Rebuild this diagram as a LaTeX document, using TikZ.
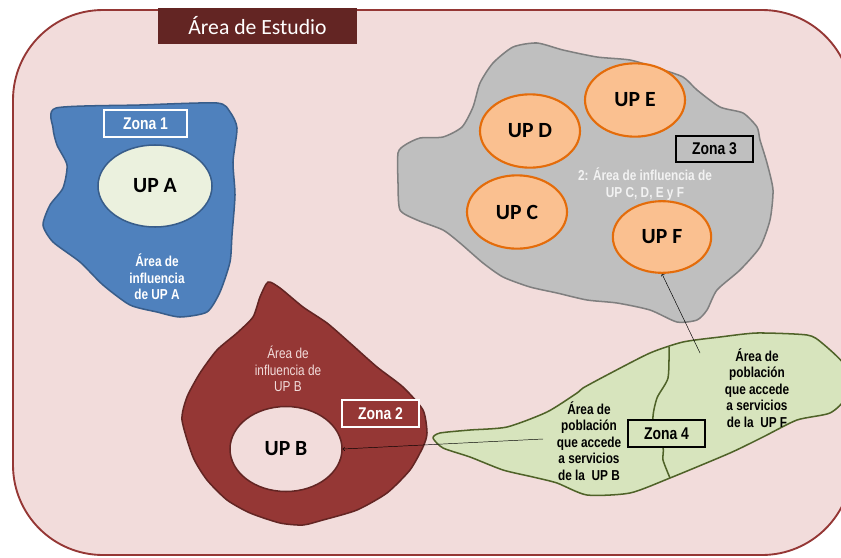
\documentclass[tikz,border=0pt]{standalone}
\usepackage{fontspec}
\setmainfont{Carlito}
\newfontfamily\narrowfont[FakeStretch=0.82]{Liberation Sans}
\usetikzlibrary{shapes.geometric,arrows}

\definecolor{fondo}{HTML}{F2DCDB}
\definecolor{marco}{HTML}{953735}
\definecolor{titulo}{HTML}{632523}
\definecolor{azul}{HTML}{4F81BD}
\definecolor{azulborde}{HTML}{385D8A}
\definecolor{crema}{HTML}{EBF1DE}
\definecolor{gris}{HTML}{BFBFBF}
\definecolor{grisborde}{HTML}{7F7F7F}
\definecolor{verde}{HTML}{D7E4BD}
\definecolor{verdeborde}{HTML}{4F6228}
\definecolor{naranja}{HTML}{FAC090}
\definecolor{naranjaborde}{HTML}{E46C0A}
\definecolor{rojo}{HTML}{953735}
\definecolor{rojoborde}{HTML}{632523}

\begin{document}
\begin{tikzpicture}[x=0.03cm,y=-0.03cm,>=to,
  zonashape/.style={line width=1.3pt, line join=round},
  up/.style={ellipse, draw, inner sep=0pt, font=\bfseries\fontsize{18.5}{18.5}\selectfont},
  upnar/.style={up, fill=naranja, draw=naranjaborde, line width=1.8pt, minimum width=3cm, minimum height=2.2cm},
  zona/.style={draw, line width=1.5pt, inner sep=0pt, minimum width=2.31cm, minimum height=0.81cm,
    font=\narrowfont\bfseries\fontsize{14.5}{14.5}\selectfont},
  txt/.style={align=center, font=\narrowfont\bfseries\fontsize{12.3}{14}\selectfont}]
  \useasboundingbox (0,0) rectangle (841,557);
  \draw[fill=fondo, draw=marco, line width=1.6pt, rounded corners=2.7cm] (13,10) rectangle (852,555);
  \node[fill=titulo, text=white, minimum width=5.97cm, minimum height=1.08cm, inner sep=0pt,
    font=\fontsize{18.5}{18.5}\selectfont] (titulo) at (257.5,26) {Área de Estudio};

  \draw[zonashape, fill=azul, draw=azulborde] plot[smooth cycle, tension=0.4] coordinates {
    (56,108) (140,105) (217,103) (230,112) (237,128) (233,162) (235,195) (232,235) (230,262)
    (220,292) (207,312) (180,317) (157,312) (130,305) (103,285) (80,262) (53,242) (43,225)
    (50,205) (63,188) (67,165) (57,145) (53,128)};
  \draw[zonashape, fill=gris, draw=grisborde] plot[smooth cycle, tension=0.4] coordinates {
    (398,153) (405,145) (420,138) (443,137) (462,127) (473,107) (480,83) (493,63) (513,47)
    (537,43) (563,50) (597,57) (630,60) (657,68) (683,77) (697,90) (720,107) (743,113)
    (757,127) (760,140) (767,163) (773,190) (770,220) (760,247) (740,270) (717,290)
    (707,310) (697,320) (677,322) (650,310) (617,303) (587,300) (557,293) (530,287)
    (503,277) (483,263) (460,243) (443,230) (417,220) (400,210) (398,183)};
  \draw[zonashape, fill=rojo, draw=rojoborde] plot[smooth cycle, tension=0.4] coordinates {
    (268,282) (280,288) (303,307) (327,323) (350,343) (377,367) (403,387) (423,410)
    (427,433) (423,447) (410,470) (387,493) (357,510) (323,520) (303,525) (280,523)
    (250,513) (227,500) (207,480) (193,457) (182,420) (187,397) (200,373) (217,350)
    (237,333) (253,317) (260,297)};
  \draw[zonashape, fill=verde, draw=verdeborde] plot[smooth cycle, tension=0.4] coordinates {
    (433,438) (440,433) (470,430) (507,427) (547,412) (577,393) (583,388) (607,375)
    (650,353) (683,342) (720,337) (757,333) (807,335) (822,343) (846,367) (846,397)
    (830,413) (797,420) (763,437) (730,453) (670,478) (630,493) (587,495) (557,483)
    (533,477) (503,470) (470,457) (443,448)};
  \draw[zonashape, draw=verdeborde] plot[smooth, tension=0.4] coordinates {
    (669,347) (668,378) (657,398) (653,420) (663,447) (663,460) (670,478)};

  \node[up, fill=crema, draw=azulborde, line width=1.3pt, minimum width=3.42cm, minimum height=2.46cm] (upA) at (155,186) {UP A};
  \node[up, fill=fondo, draw=rojoborde, line width=1.3pt, minimum width=3.36cm, minimum height=2.55cm] (upB) at (286,449) {UP B};
  \node[upnar] (upC) at (517,212) {UP C};
  \node[upnar] (upD) at (530,131) {UP D};
  \node[upnar] (upE) at (635,100) {UP E};
  \node[upnar, minimum width=2.95cm, minimum height=2.15cm] (upF) at (662,237) {UP F};

  \node[zona, fill=azul, draw=white, text=white, minimum width=2.49cm] (zona1) at (145.5,123.5) {Zona 1};
  \node[zona, fill=rojo, draw=white, text=white] (zona2) at (380.5,413.5) {Zona 2};
  \node[zona, fill=gris, draw=black, minimum height=0.78cm] (zona3) at (714.5,149) {Zona 3};
  \node[zona, fill=verde, draw=black] (zona4) at (666.5,433.5) {Zona 4};

  \node[txt, text=white] (infA) at (157,277) {Área de\\influencia\\de UP A};
  \node[txt, text=fondo, font=\narrowfont\fontsize{12.3}{14}\selectfont] (infB) at (288,369) {Área de\\influencia de\\UP B};
  \node[txt, text=white!95!black] (infCF) at (645,184) {2: Área de influencia de\\UP C, D, E y F};
  \node[txt] (pobB) at (589,441) {Área de\\población\\que accede\\a servicios\\de la~ UP B};
  \node[txt] (pobF) at (757,388) {Área de\\población\\que accede\\a servicios\\de la~ UP F};

  \coordinate (desdeB) at (543,439);
  \coordinate (desdeF) at (700,353);
  \draw[->, thin] (desdeB) -- (upB.east);
  \draw[->, thin] (desdeF) -- (upF.south);
\end{tikzpicture}
\end{document}
